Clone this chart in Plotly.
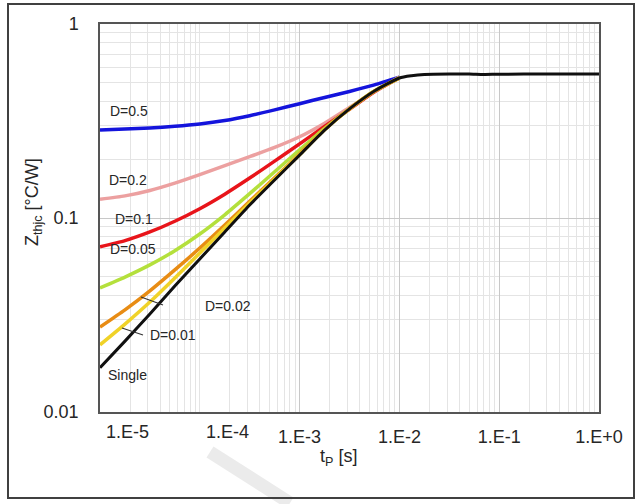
import plotly.graph_objects as go

# ---- data ----
t_pulse = [1.0e-5, 1.78e-5, 3.16e-5, 5.62e-5, 1.0e-4, 1.78e-4, 3.16e-4,
           5.62e-4, 1.0e-3, 1.78e-3, 3.16e-3, 5.62e-3, 1.0e-2]
z_d050 = [0.284, 0.2873, 0.2913, 0.2967, 0.3049, 0.3178, 0.3367, 0.3607, 0.3884, 0.4181, 0.4491, 0.4856, 0.5324]
z_d020 = [0.125, 0.130, 0.1387, 0.1514, 0.1675, 0.1862, 0.207, 0.2312, 0.2624, 0.3083, 0.3715, 0.4467, 0.533]
z_d010 = [0.0710, 0.0764, 0.0847, 0.0962, 0.1117, 0.1327, 0.1607, 0.1963, 0.2410, 0.2965, 0.3631, 0.4477, 0.527]
z_d005 = [0.0436, 0.0496, 0.0573, 0.0678, 0.0827, 0.1039, 0.1335, 0.1731, 0.2246, 0.2901, 0.3651, 0.4512, 0.5278]
z_d002 = [0.0274, 0.0336, 0.0421, 0.0540, 0.0700, 0.0920, 0.122, 0.161, 0.214, 0.286, 0.365, 0.451, 0.527]
z_d001 = [0.0222, 0.0284, 0.0369, 0.0491, 0.0660, 0.0888, 0.1195, 0.159, 0.212, 0.285, 0.365, 0.451, 0.527]

t_single = [1.0e-5, 1.78e-5, 3.16e-5, 5.62e-5, 1.0e-4, 1.78e-4, 3.16e-4,
            5.62e-4, 1.0e-3, 1.78e-3, 3.16e-3, 5.62e-3, 1.0e-2, 1.32e-2,
            1.78e-2, 3.16e-2, 5.0e-2, 7.0e-2, 1.0e-1, 3.0e-1, 1.0]
z_single = [0.0169, 0.0232, 0.0320, 0.0446, 0.0615, 0.0847, 0.1167, 0.157,
            0.211, 0.284, 0.365, 0.451, 0.527, 0.541, 0.549, 0.552, 0.552,
            0.549, 0.551, 0.552, 0.552]

series_names = ["D=0.5", "D=0.2", "D=0.1", "D=0.05", "D=0.02", "D=0.01", "Single"]
series_colors = ["#1414dc", "#eca0a0", "#e8141a", "#b4e03c", "#e88c14", "#f0d228", "#101010"]

x_tickvals = [1e-3, 1e-2, 1e-1, 1.0]
x_ticktext = ["1.E-3", "1.E-2", "1.E-1", "1.E+0"]
x_shifted_labels = ["1.E-5", "1.E-4"]
y_tickvals = [0.01, 0.1, 1]
y_ticktext = ["0.01", "0.1", "1"]

FONT = "Liberation Sans, Arial, sans-serif"
TXT = "#262626"

fig = go.Figure()
series = [(t_pulse, z_d050), (t_pulse, z_d020), (t_pulse, z_d010), (t_pulse, z_d005),
          (t_pulse, z_d002), (t_pulse, z_d001), (t_single, z_single)]
for (tx, zy), name, col in zip(series, series_names, series_colors):
    fig.add_trace(go.Scatter(
        x=tx, y=zy, mode="lines", name=name,
        line=dict(color=col, width=3.5 if name != "Single" else 3,
                  shape="spline", smoothing=0.6),
        showlegend=False, hoverinfo="skip"))

fig.update_layout(
    width=641, height=504,
    margin=dict(l=100, r=42, t=24, b=92),
    paper_bgcolor="white", plot_bgcolor="white",
    font=dict(family=FONT, size=18, color=TXT),
    showlegend=False,
)

fig.update_xaxes(
    type="log", range=[-5, 0],
    tickvals=x_tickvals, ticktext=x_ticktext,
    ticks="", ticklabelstandoff=8,
    showgrid=True, gridcolor="#c8c8c8", gridwidth=1,
    minor=dict(dtick="D1", showgrid=True, gridcolor="#e4e4e4", gridwidth=1, ticks=""),
    showline=True, linecolor="#555555", linewidth=1.5, mirror=True,
    zeroline=False, tickfont=dict(size=18, color=TXT),
)
fig.update_yaxes(
    type="log", range=[-2, 0],
    tickvals=y_tickvals, ticktext=y_ticktext,
    ticks="", ticklabelstandoff=16,
    showgrid=True, gridcolor="#c8c8c8", gridwidth=1,
    minor=dict(dtick="D1", showgrid=True, gridcolor="#e4e4e4", gridwidth=1, ticks=""),
    showline=True, linecolor="#555555", linewidth=1.5, mirror=True,
    zeroline=False, tickfont=dict(size=18, color=TXT),
)

def px2paper(px, py):
    return (px - 100) / 499.0, (412 - py) / 388.0

annotations = []
# shifted first two x tick labels
for lab, cx in zip(x_shifted_labels, [127, 227]):
    xp, yp = px2paper(cx, 432)
    annotations.append(dict(x=xp, y=yp, xref="paper", yref="paper", text=lab,
                            showarrow=False, xanchor="center", yanchor="middle",
                            font=dict(size=18, color=TXT)))

# curve labels
label_pos = {"D=0.5": (108, 111), "D=0.2": (107, 180), "D=0.1": (113, 219),
             "D=0.05": (108, 249), "D=0.02": (203, 306), "D=0.01": (148, 335),
             "Single": (106, 375)}
for name in series_names:
    px, py = label_pos[name]
    xp, yp = px2paper(px, py)
    annotations.append(dict(x=xp, y=yp, xref="paper", yref="paper", text=name,
                            showarrow=False, xanchor="left", yanchor="middle",
                            font=dict(size=14, color=TXT)))

# axis titles
xp, yp = px2paper(33, 202)
annotations.append(dict(x=xp, y=yp, xref="paper", yref="paper",
                        text="Z<sub>thjc</sub> [°C/W]", textangle=-90, showarrow=False,
                        xanchor="center", yanchor="middle", font=dict(size=18, color=TXT)))
xp, yp = px2paper(338, 457)
annotations.append(dict(x=xp, y=yp, xref="paper", yref="paper",
                        text="t<sub>P</sub> [s]", showarrow=False,
                        xanchor="center", yanchor="middle", font=dict(size=18, color=TXT)))
fig.update_layout(annotations=annotations)

shapes = []
# leader lines
for (a, b) in [((141, 297), (163, 305)), ((122, 328), (143, 335))]:
    x0, y0 = px2paper(*a)
    x1, y1 = px2paper(*b)
    shapes.append(dict(type="line", xref="paper", yref="paper", x0=x0, y0=y0, x1=x1, y1=y1,
                       line=dict(color="#333333", width=1.2)))
# faint diagonal watermark stripe
x0, y0 = px2paper(210, 452)
x1, y1 = px2paper(290, 503)
shapes.append(dict(type="line", xref="paper", yref="paper", x0=x0, y0=y0, x1=x1, y1=y1,
                   line=dict(color="#ebebeb", width=13)))
# outer frame
fx0, fy0 = px2paper(8, 498)
fx1, fy1 = px2paper(634, 4)
shapes.append(dict(type="rect", xref="paper", yref="paper", x0=fx0, y0=fy0, x1=fx1, y1=fy1,
                   line=dict(color="#404040", width=2), fillcolor="rgba(0,0,0,0)"))
fig.update_layout(shapes=shapes)

fig.write_html("out.html",
               config={"displayModeBar": False},
               post_script="document.body.style.margin='0px';document.body.style.overflow='hidden';")
